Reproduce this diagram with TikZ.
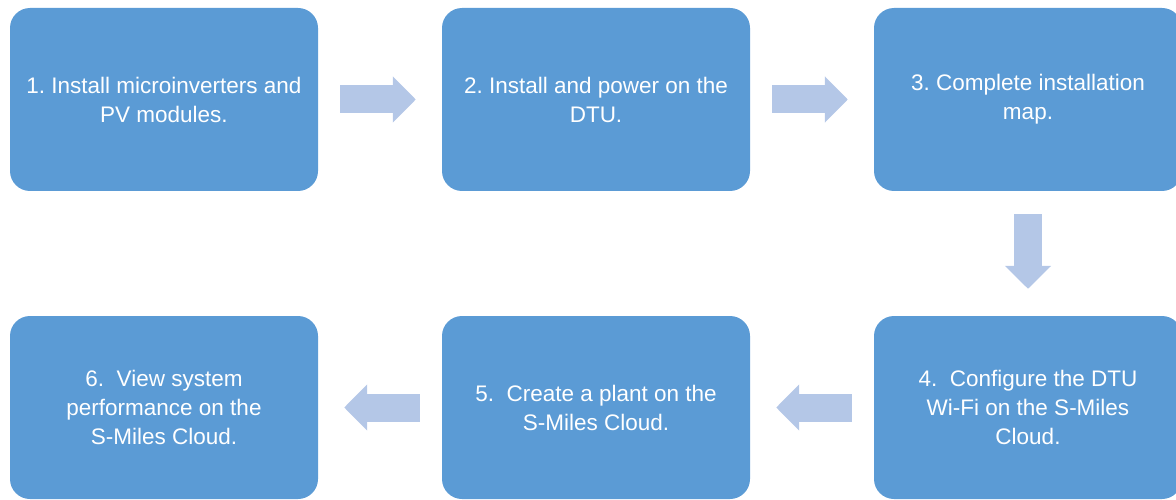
\documentclass[tikz,border=0pt]{standalone}
\usepackage{fontspec}
\setmainfont{Liberation Sans}
\frenchspacing
\usetikzlibrary{positioning,calc}
\usetikzlibrary{arrows.meta}
\definecolor{stepblue}{HTML}{5B9BD5}
\definecolor{flowblue}{HTML}{B4C7E7}
\tikzstyle{stepbox} = [rectangle, rounded corners=20pt, fill=stepblue, text=white,
  minimum width=308pt, minimum height=183pt, inner sep=0pt, align=center,
  font=\fontsize{22.5}{29}\selectfont]
\tikzstyle{flow} = [draw=flowblue, line width=28pt,
  -{Triangle[length=23pt,width=45pt]}, shorten <=22pt, shorten >=26pt]

\begin{document}
\begin{tikzpicture}[x=1pt,y=1pt]
	\useasboundingbox (0,0) rectangle (1176,-500);
	% top row
	\node[stepbox] (s1) at (164,-99.5) {1. Install microinverters and\\PV modules.};
	\node[stepbox] (s2) at (596,-99.5) {2. Install and power on the\\DTU.};
	\node[stepbox] (s3) at (1028,-99.5) {3. Complete installation\\map.};
	% bottom row
	\node[stepbox] (s4) at (1028,-407.5) {4.~ Configure the DTU\\Wi-Fi on the S-Miles\\Cloud.};
	\node[stepbox] (s5) at (596,-407.5) {5.~ Create a plant on the\\S-Miles Cloud.};
	\node[stepbox] (s6) at (164,-407.5) {6.~ View system\\performance on the\\S-Miles Cloud.};
	% arrows
	\draw[flow] (s1) -- (s2);
	\draw[flow] (s2) -- (s3);
	\draw[flow, shorten <=23pt, shorten >=27pt] (s3) -- (s4);
	\draw[flow] (s4) -- (s5);
	\draw[flow] (s5) -- (s6);
\end{tikzpicture}
\end{document}
